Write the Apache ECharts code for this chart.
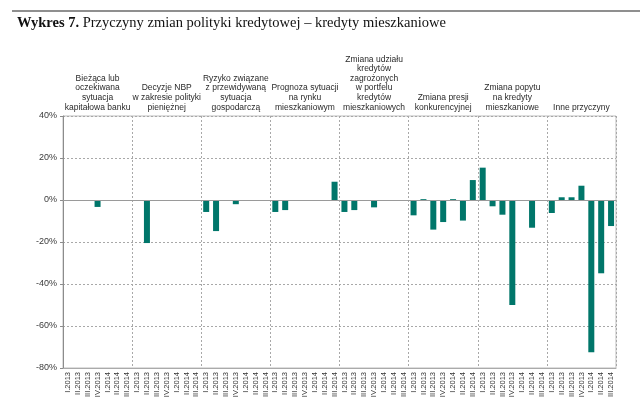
<!DOCTYPE html>
<html>
<head>
<meta charset="utf-8">
<script src="https://cdn.jsdelivr.net/npm/echarts@6/dist/echarts.min.js"></script>
<style>html,body{margin:0;padding:0;background:#fff;}#c{width:640px;height:415px;}</style>
</head>
<body>
<div id="c"></div>
<script>
var quarters = ['I.2013','II.2013','III.2013','IV.2013','I.2014','II.2014','III.2014'];
var groupNames = [
  'Bieżąca lub\noczekiwana\nsytuacja\nkapitałowa banku',
  'Decyzje NBP\nw zakresie polityki\npieniężnej',
  'Ryzyko związane\nz przewidywaną\nsytuacja\ngospodarczą',
  'Prognoza sytuacji\nna rynku\nmieszkaniowym',
  'Zmiana udziału\nkredytów\nzagrożonych\nw portfelu\nkredytów\nmieszkaniowych',
  'Zmiana presji\nkonkurencyjnej',
  'Zmiana popytu\nna kredyty\nmieszkaniowe',
  'Inne przyczyny'
];
var kapital   = [0, 0, 0, -3.3, 0, 0, 0];
var decyzjeNBP = [0, -20.5, 0, 0, 0, 0, 0];
var ryzyko    = [-5.7, -14.8, 0, -2, 0, 0, 0];
var prognoza  = [-5.7, -4.8, 0, 0, 0, 0, 8.7];
var zagrozone = [-5.7, -4.8, 0, -3.5, 0, 0, 0];
var presja    = [-7.3, 0.4, -14.1, -10.5, 0.4, -9.8, 9.5];
var popyt     = [15.4, -3, -7, -50, 0, -13.2, 0];
var inne      = [-6.2, 1.3, 1.3, 6.8, -72.5, -34.9, -12.4];
var yTicks = { min: -80, max: 40, interval: 20 };

var groupValues = [kapital, decyzjeNBP, ryzyko, prognoza, zagrozone, presja, popyt, inne];
var categories = [];
var values = [];
groupValues.forEach(function (g) {
  quarters.forEach(function (q, i) { categories.push(q); values.push(g[i]); });
});
var perGroup = quarters.length;

var chart = echarts.init(document.getElementById('c'));
chart.setOption({
  backgroundColor: '#fff',
  animation: false,
  title: {
    left: 12, top: 11,
    text: '{b|Wykres 7.} Przyczyny zmian polityki kredytowej – kredyty mieszkaniowe',
    textStyle: {
      fontFamily: 'Liberation Serif', fontSize: 14.5, fontWeight: 'normal', color: '#111',
      rich: { b: { fontFamily: 'Liberation Serif', fontSize: 14.5, fontWeight: 'bold', color: '#111' } }
    }
  },
  graphic: [{
    type: 'line', shape: { x1: 12, y1: 11, x2: 640, y2: 11 },
    style: { stroke: '#6a6a6a', lineWidth: 1.5 }, silent: true
  }],
  grid: { left: 63, right: 24, top: 116, bottom: 47, show: true, borderColor: '#bdbdbd', borderWidth: 1 },
  xAxis: [{
    type: 'category', data: categories, position: 'bottom',
    axisLine: { onZero: false, lineStyle: { color: '#aaaaaa' } },
    axisTick: { show: false },
    axisLabel: { interval: 0, rotate: 90, fontSize: 7.5, margin: 4, color: '#333', fontFamily: 'Liberation Sans' },
    splitLine: {
      show: true,
      interval: function (index) { return index > 0 && index % perGroup === 0; },
      lineStyle: { color: '#a8a8a8', type: [2, 2], width: 1 }
    }
  }, {
    type: 'category', data: groupNames, position: 'top',
    axisLine: { show: false }, axisTick: { show: false }, splitLine: { show: false },
    axisLabel: { interval: 0, fontSize: 8.5, lineHeight: 9.6, margin: 4, color: '#2a2a2a', fontFamily: 'Liberation Sans' }
  }],
  yAxis: {
    type: 'value', min: yTicks.min, max: yTicks.max, interval: yTicks.interval,
    axisLine: { show: true, lineStyle: { color: '#8c8c8c' } },
    axisTick: { show: true, length: 3, lineStyle: { color: '#8c8c8c' } },
    axisLabel: { formatter: '{value}%', fontSize: 9, margin: 6, color: '#3a3a3a', fontFamily: 'Liberation Sans' },
    splitLine: { show: true, lineStyle: { color: '#a8a8a8', type: [2, 2], width: 1 } }
  },
  series: [{
    type: 'bar', data: values, barWidth: 6, xAxisIndex: 0,
    itemStyle: { color: '#00766a' },
    markLine: {
      silent: true, symbol: 'none', label: { show: false },
      lineStyle: { color: '#9a9a9a', type: 'solid', width: 1 },
      data: [{ yAxis: 0 }]
    },
    z: 3
  }]
});
</script>
</body>
</html>
